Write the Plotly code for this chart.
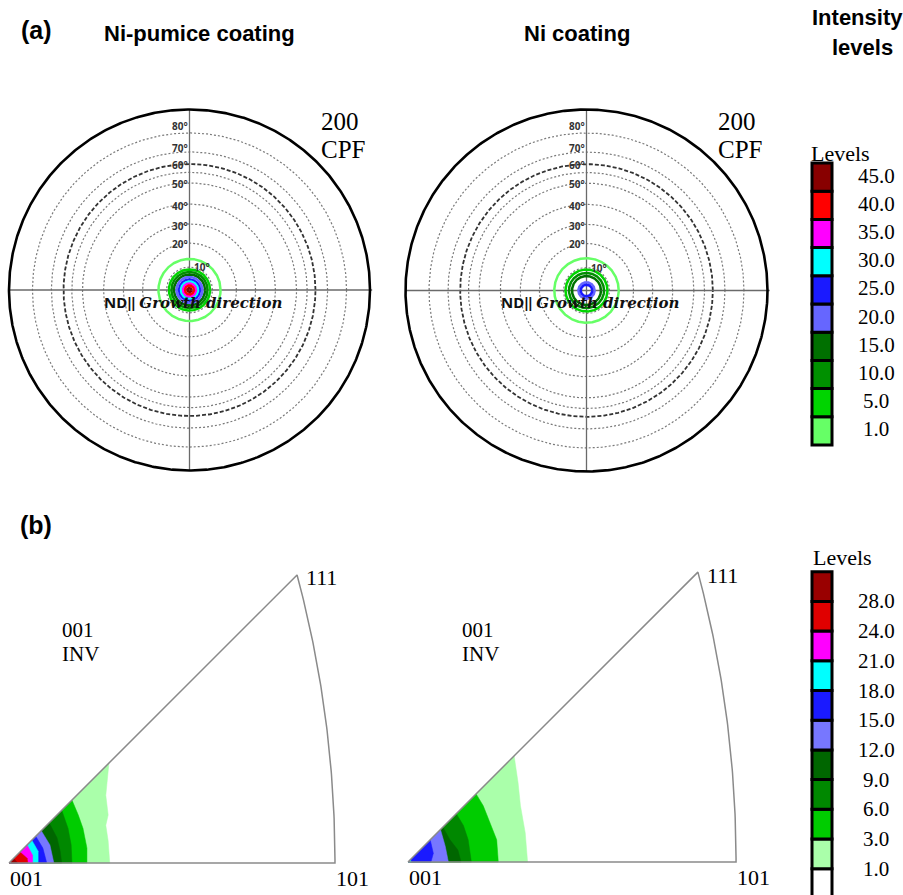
import numpy as np
import plotly.graph_objects as go

W, H = 903, 895

# ---------------- data ----------------
ring_angles = [10, 20, 30, 40, 50, None, 60, 70, 80]
# projected ring radius (fraction of the outer circle)
ring_radius = [0.127, 0.260, 0.366, 0.476, 0.593, 0.652, 0.698, 0.765, 0.870]
ring_label_radius = [0.127, 0.255, 0.355, 0.465, 0.588, None, 0.692, 0.787, 0.908]
ring_bold = 60

cpf_levels = [1.0, 5.0, 10.0, 15.0, 20.0, 25.0, 30.0, 35.0, 40.0, 45.0]
cpf_colors = ["#66ff66", "#00d400", "#009000", "#007000", "#6666ff",
              "#1a1aff", "#00ffff", "#ff00ff", "#ff0000", "#880000"]
# projected radius of each intensity contour around ND (fraction of outer circle)
cpf_pumice_r = [0.172, 0.114, 0.100, 0.086, 0.072, 0.058, 0.047, 0.036, 0.025, 0.011]
cpf_ni_r = [0.178, 0.116, 0.097, 0.080, 0.045, 0.032]

ipf_levels = [1.0, 3.0, 6.0, 9.0, 12.0, 15.0, 18.0, 21.0, 24.0, 28.0]
ipf_colors = ["#aaffaa", "#00cc00", "#008800", "#006600", "#7777ff",
              "#1a1aff", "#00ffff", "#ff00ff", "#e00000", "#990000"]
# contour lines (stereographic coords) from the 001-101 edge to the 001-111 edge
ipf_pumice_x = [
    [0.128, 0.126, 0.123, 0.126, 0.123, 0.127],
    [0.099, 0.099, 0.094, 0.088, 0.080],
    [0.080, 0.079, 0.075, 0.067],
    [0.067, 0.065, 0.061, 0.051],
    [0.057, 0.052, 0.041],
    [0.048, 0.043, 0.034],
    [0.037, 0.037, 0.029],
    [0.030, 0.030, 0.023],
    [0.024, 0.023, 0.014],
    [0.011, 0.006],
]
ipf_pumice_y = [
    [0.000, 0.028, 0.048, 0.061, 0.086, 0.127],
    [0.000, 0.019, 0.044, 0.061, 0.080],
    [0.000, 0.023, 0.044, 0.067],
    [0.000, 0.015, 0.032, 0.051],
    [0.000, 0.023, 0.041],
    [0.000, 0.019, 0.034],
    [0.000, 0.015, 0.029],
    [0.000, 0.010, 0.023],
    [0.000, 0.006, 0.014],
    [0.000, 0.006],
]
ipf_ni_x = [
    [0.151, 0.148, 0.142, 0.139, 0.134],
    [0.114, 0.112, 0.104, 0.095, 0.086],
    [0.080, 0.076, 0.070, 0.061],
    [0.067, 0.063, 0.053, 0.044],
    [0.051, 0.047, 0.041],
    [0.029, 0.032, 0.028],
    [0.004, 0.003],
]
ipf_ni_y = [
    [0.000, 0.037, 0.071, 0.100, 0.134],
    [0.000, 0.028, 0.049, 0.071, 0.086],
    [0.000, 0.028, 0.046, 0.061],
    [0.000, 0.015, 0.028, 0.044],
    [0.000, 0.020, 0.041],
    [0.000, 0.011, 0.028],
    [0.000, 0.003],
]
pole_labels = ["001", "101", "111"]

SERIF = "Liberation Serif, Times New Roman, serif"
SANS = "Liberation Sans, Arial, sans-serif"

fig = go.Figure()
layout = dict(width=W, height=H, margin=dict(l=0, r=0, t=0, b=0),
              paper_bgcolor="white", plot_bgcolor="rgba(0,0,0,0)",
              showlegend=False, barmode="overlay")
annotations = []


def axes(n, px_l, px_r, px_t, px_b, ox, oy, sx, sy=None):
    sy = sy or sx
    common = dict(visible=False, showgrid=False, zeroline=False, fixedrange=True)
    xa = dict(domain=[px_l / W, px_r / W], range=[(px_l - ox) / sx, (px_r - ox) / sx],
              anchor="y%d" % n, **common)
    ya = dict(domain=[1 - px_b / H, 1 - px_t / H], range=[(oy - px_b) / sy, (oy - px_t) / sy],
              anchor="x%d" % n, **common)
    layout["xaxis%d" % n] = xa
    layout["yaxis%d" % n] = ya
    return "x%d" % n, "y%d" % n


t = np.linspace(0, 2 * np.pi, 721)


def pole_figure(n, box, center, R, contour_r):
    xr, yr = axes(n, *box, center[0], center[1], R)
    for a, r, lr in zip(ring_angles, ring_radius, ring_label_radius):
        bold = a == ring_bold
        fig.add_trace(go.Scatter(x=r * np.cos(t), y=r * np.sin(t), mode="lines",
                                 line=dict(color="#333" if bold else "#7a7a7a",
                                           width=1.8 if bold else 1.2,
                                           dash="4px,2px" if bold else "2px,2px"),
                                 hoverinfo="skip", xaxis=xr, yaxis=yr))
        if a is None:
            continue
        annotations.append(dict(x=0, y=lr, xref=xr, yref=yr, text="<b>%d°</b>" % a,
                                showarrow=False, xanchor="left" if a == 10 else "right",
                                xshift=2 if a == 10 else 0, yanchor="middle",
                                font=dict(family="Noto Sans, sans-serif", size=10, color="#333")))
    fig.add_trace(go.Scatter(x=[-1, 1.012], y=[0, 0], mode="lines",
                             line=dict(color="#6a6a6a", width=1.3), hoverinfo="skip",
                             xaxis=xr, yaxis=yr))
    fig.add_trace(go.Scatter(x=[0, 0], y=[-1, 1], mode="lines",
                             line=dict(color="#6a6a6a", width=1.3), hoverinfo="skip",
                             xaxis=xr, yaxis=yr))
    for lev, col, r in zip(cpf_levels, cpf_colors, contour_r):
        fig.add_trace(go.Scatter(x=r * np.cos(t), y=r * np.sin(t), mode="lines",
                                 line=dict(color=col, width=2.5), name=str(lev),
                                 hoverinfo="skip", xaxis=xr, yaxis=yr))
    fig.add_trace(go.Scatter(x=np.cos(t), y=np.sin(t), mode="lines",
                             line=dict(color="black", width=2.6), hoverinfo="skip",
                             xaxis=xr, yaxis=yr))
    cx = center[0]
    annotations.append(dict(x=(cx - 88) / W, y=1 - 302 / H, xref="paper", yref="paper",
                            xanchor="left", yanchor="middle", showarrow=False,
                            text="<b>ND‖</b> <span style='font-family:DejaVu Serif'><b><i>Growth direction</i></b></span>",
                            font=dict(family="Noto Sans, sans-serif", size=15, color="#111")))
    annotations.append(dict(x=(cx + 150) / W, y=1 - 121 / H, xref="paper", yref="paper",
                            showarrow=False, text="200", xanchor="center", yanchor="middle",
                            font=dict(family=SERIF, size=25, color="black")))
    annotations.append(dict(x=(cx + 153) / W, y=1 - 149 / H, xref="paper", yref="paper",
                            showarrow=False, text="CPF", xanchor="center", yanchor="middle",
                            font=dict(family=SERIF, size=25, color="black")))


def inverse_pf(n, box, origin, s, cxs, cys, inv_x):
    xr, yr = axes(n, *box, origin[0], origin[1], s)
    for lev, col, bx, by in zip(ipf_levels, ipf_colors, cxs, cys):
        fig.add_trace(go.Scatter(x=[0] + bx + [0], y=[0] + by + [0], mode="lines",
                                 fill="toself", fillcolor=col, line=dict(color=col, width=0.5),
                                 name=str(lev), hoverinfo="skip", xaxis=xr, yaxis=yr))
    p101 = np.tan(np.radians(22.5))
    p111 = 1 / (np.sqrt(3) + 1)
    a_end = np.arctan2(p111, 1 + p111)
    arc = np.linspace(0, a_end, 80)
    ox = np.concatenate([[0], -1 + np.sqrt(2) * np.cos(arc), [0]])
    oy = np.concatenate([[0], np.sqrt(2) * np.sin(arc), [0]])
    fig.add_trace(go.Scatter(x=ox, y=oy, mode="lines", line=dict(color="#8a8a8a", width=1.5),
                             hoverinfo="skip", xaxis=xr, yaxis=yr))
    f = dict(family=SERIF, size=22, color="black")
    annotations.append(dict(x=0, y=0, xref=xr, yref=yr, text=pole_labels[0], showarrow=False,
                            xanchor="left", yanchor="middle", xshift=-1, yshift=-15, font=f))
    annotations.append(dict(x=p101, y=0, xref=xr, yref=yr, text=pole_labels[1], showarrow=False,
                            xanchor="left", yanchor="middle", xshift=-1, yshift=-15, font=f))
    annotations.append(dict(x=p111, y=p111, xref=xr, yref=yr, text=pole_labels[2], showarrow=False,
                            xanchor="left", yanchor="middle", xshift=7, yshift=-3, font=f))
    fi = dict(family=SERIF, size=21, color="black")
    annotations.append(dict(x=inv_x / W, y=1 - 630 / H, xref="paper", yref="paper",
                            text="001", showarrow=False, xanchor="left", yanchor="middle", font=fi))
    annotations.append(dict(x=inv_x / W, y=1 - 654 / H, xref="paper", yref="paper",
                            text="INV", showarrow=False, xanchor="left", yanchor="middle", font=fi))


def level_key(n, box, x0, y_bottom, step, colors, labels, label_offset, title_y, title_x):
    xr, yr = axes(n, box[0], box[1], box[2], box[3], x0, y_bottom, 20, step)
    k = len(colors)
    fig.add_trace(go.Bar(x=[0.5] * k, y=[1] * k, base=list(range(k)), width=1,
                         marker=dict(color=colors, line=dict(color="black", width=3)),
                         hoverinfo="skip", xaxis=xr, yaxis=yr))
    for i, lab in enumerate(labels):
        annotations.append(dict(x=876 / W, y=i + label_offset, xref="paper", yref=yr,
                                text=lab, showarrow=False, xanchor="center", yanchor="middle",
                                font=dict(family=SERIF, size=21, color="black")))
    annotations.append(dict(x=title_x / W, y=1 - title_y / H, xref="paper", yref="paper",
                            text="Levels", showarrow=False, xanchor="center", yanchor="middle",
                            font=dict(family=SERIF, size=22, color="black")))


pole_figure(1, (0, 385, 100, 480), (189.5, 290), 180.5, cpf_pumice_r)
pole_figure(2, (395, 785, 100, 480), (586.5, 290.5), 181, cpf_ni_r)
inverse_pf(3, (0, 385, 550, 895), (9, 863), 787, ipf_pumice_x, ipf_pumice_y, 60)
inverse_pf(4, (395, 790, 550, 895), (408, 862), 792, ipf_ni_x, ipf_ni_y, 460)

# key (a): bottom -> top = 1.0 ... 45.0
level_key(5, (805, 840, 155, 452), 812, 445, 28.2, cpf_colors,
          ["%.1f" % v for v in cpf_levels], 0.55, 153, 840)
# key (b): bottom white box then levels 1.0 ... 28.0 at boundaries
level_key(6, (805, 840, 565, 895), 812, 898.4, 29.7, ["#ffffff"] + ipf_colors,
          ["%.1f" % v for v in ipf_levels], 1.0, 557, 842)

hdr = dict(family=SANS, size=22, color="black")
annotations += [
    dict(x=36 / W, y=1 - 30 / H, text="<b>(a)</b>", font=dict(family=SANS, size=25)),
    dict(x=36 / W, y=1 - 525 / H, text="<b>(b)</b>", font=dict(family=SANS, size=25)),
    dict(x=199 / W, y=1 - 33 / H, text="<b>Ni-pumice coating</b>", font=hdr),
    dict(x=577 / W, y=1 - 33 / H, text="<b>Ni coating</b>", font=hdr),
    dict(x=857 / W, y=1 - 18 / H, text="<b>Intensity</b>", font=hdr),
    dict(x=862 / W, y=1 - 47 / H, text="<b>levels</b>", font=hdr),
]
for a in annotations[-6:]:
    a.update(xref="paper", yref="paper", showarrow=False, xanchor="center", yanchor="middle")
    a["font"].setdefault("color", "black")

layout["annotations"] = annotations
fig.update_layout(**layout)
fig.write_html("out.html")
